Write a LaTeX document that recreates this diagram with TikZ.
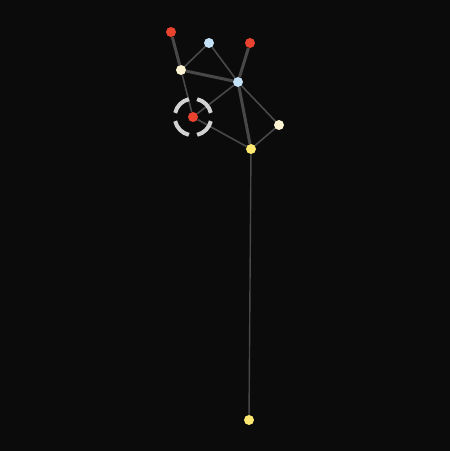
\documentclass[tikz,border=0pt]{standalone}
\usetikzlibrary{backgrounds}

\definecolor{bgdark}{HTML}{0B0B0B}
\definecolor{linkgray}{HTML}{484848}
\definecolor{ringgray}{HTML}{D2D2D2}
\definecolor{nodered}{HTML}{E8432E}
\definecolor{nodeblue}{HTML}{C4E2F7}
\definecolor{nodecream}{HTML}{FCF3D2}
\definecolor{nodeyellow}{HTML}{FCE770}

\tikzset{
    vert/.style={circle, inner sep=0pt, minimum size=10pt},
    redvert/.style={vert, fill=nodered},
    bluevert/.style={vert, fill=nodeblue},
    creamvert/.style={vert, fill=nodecream},
    yellowvert/.style={vert, fill=nodeyellow},
    link/.style={draw=linkgray, line width=1.6pt},
    heavylink/.style={draw=linkgray, line width=3pt},
    faintlink/.style={draw=linkgray, line width=1.4pt},
    targetring/.style={draw=ringgray, line width=4pt}
}

\begin{document}
\begin{tikzpicture}[x=1pt, y=-1pt]
        % Background
        \begin{scope}[on background layer]
            \fill[bgdark] (0, 0) rectangle (450, 451);
        \end{scope}
        \useasboundingbox (0, 0) rectangle (450, 451);

        % Vertices
        \node[redvert] (redA) at (171, 32) {};
        \node[bluevert] (blueA) at (209, 43) {};
        \node[redvert] (redB) at (250, 43) {};
        \node[creamvert] (creamA) at (181, 70) {};
        \node[bluevert] (blueB) at (238, 82) {};
        \node[redvert] (redC) at (193, 117) {};
        \node[creamvert] (creamB) at (279, 125) {};
        \node[yellowvert] (yellowA) at (251, 149) {};
        \node[yellowvert] (yellowB) at (249, 420) {};

        % Target ring
        \foreach \a in {0, 90, 180, 270}
            \draw[targetring] (redC.center) ++(\a+13:18.3) arc[start angle=\a+13, end angle=\a+77, radius=18.3];

        % Links
        \begin{scope}[on background layer]
            \draw[heavylink] (redA) -- (creamA);
            \draw[heavylink] (redB) -- (blueB);
            \draw[heavylink] (creamA) -- (blueB);
            \draw[heavylink] (blueB) -- (yellowA);
            \draw[link] (blueA) -- (creamA);
            \draw[link] (blueA) -- (blueB);
            \draw[link] (creamA) -- (redC);
            \draw[link] (blueB) -- (redC);
            \draw[link] (blueB) -- (creamB);
            \draw[link] (redC) -- (yellowA);
            \draw[link] (creamB) -- (yellowA);
            \draw[faintlink] (yellowA) -- (yellowB);
        \end{scope}

    \end{tikzpicture}
\end{document}
